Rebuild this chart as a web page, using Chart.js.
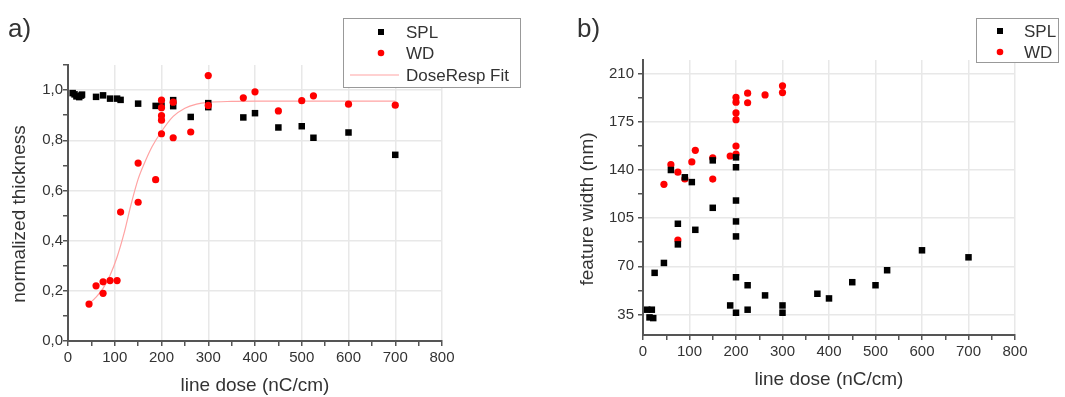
<!DOCTYPE html>
<html>
<head>
<meta charset="utf-8">
<script src="https://cdn.jsdelivr.net/npm/chart.js@4.4.0/dist/chart.umd.min.js"></script>
<style>
  html, body { margin: 0; padding: 0; background: #fff; }
  body { width: 1065px; height: 397px; position: relative; overflow: hidden; }
  .box { position: absolute; top: 0; height: 397px; }
  #boxA { left: 0; width: 540px; }
  #boxB { left: 540px; width: 525px; }
</style>
</head>
<body>
<div class="box" id="boxA"><canvas id="chartA" width="540" height="397"></canvas></div>
<div class="box" id="boxB"><canvas id="chartB" width="525" height="397"></canvas></div>
<script>
// ---- a) normalized thickness vs line dose ----
const splDoseA  = [10, 14, 18, 24, 28, 30, 60, 75, 90, 105, 112.5, 150, 187.5, 200, 225, 225, 262.5, 300, 300, 375, 400, 450, 500, 525, 600, 700];
const splThickA = [0.988, 0.983, 0.975, 0.972, 0.978, 0.982, 0.973, 0.979, 0.966, 0.966, 0.961, 0.946, 0.937, 0.938, 0.960, 0.936, 0.893, 0.948, 0.932, 0.891, 0.908, 0.851, 0.856, 0.810, 0.831, 0.742];

const wdDoseA  = [45, 60, 75, 75, 90, 105, 112.5, 150, 150, 187.5, 200, 200, 200, 200, 200, 225, 225, 262.5, 300, 300, 375, 400, 450, 500, 525, 600, 700];
const wdThickA = [0.147, 0.220, 0.236, 0.190, 0.241, 0.241, 0.514, 0.709, 0.553, 0.643, 0.960, 0.930, 0.898, 0.880, 0.826, 0.952, 0.810, 0.833, 1.058, 0.939, 0.969, 0.993, 0.917, 0.958, 0.977, 0.944, 0.940];

// DoseResp fit curve
const fitDoseA  = [45, 60, 75, 90, 105, 120, 135, 150, 165, 180, 200, 225, 250, 275, 300, 350, 400, 500, 600, 700];
const fitThickA = [0.148, 0.175, 0.21, 0.262, 0.335, 0.43, 0.545, 0.645, 0.715, 0.775, 0.835, 0.895, 0.928, 0.944, 0.951, 0.955, 0.956, 0.956, 0.956, 0.956];

// ---- b) feature width vs line dose ----
const splDoseB  = [9, 19, 14, 22, 25, 45, 60, 75, 75, 90, 105, 112.5, 150, 150, 187.5, 200, 200, 200, 200, 200, 200, 200, 225, 225, 262.5, 300, 300, 375, 400, 450, 500, 525, 600, 700];
const splWidthB = [38.4, 38.4, 32.8, 32.3, 65.2, 72.4, 140, 100.9, 85.9, 134.7, 131.2, 96.5, 147, 112.5, 41.5, 149.2, 142, 117.8, 102.6, 91.7, 62, 36.2, 56.2, 38.4, 48.8, 41.5, 36.2, 50, 46.6, 58.4, 56.2, 67.1, 81.6, 76.5];

const wdDoseB  = [45, 60, 75, 75, 90, 105, 112.5, 150, 150, 187.5, 200, 200, 200, 200, 200, 200, 225, 225, 262.5, 300, 300];
const wdWidthB = [129.6, 143.9, 138.4, 89.1, 133.5, 145.9, 154.3, 148.8, 133.4, 150.2, 157.4, 151.6, 176.6, 181.5, 189.3, 192.8, 188.9, 195.9, 194.6, 196.3, 201.2];

// ticks (major + minor)
const doseTicks  = [0, 50, 100, 150, 200, 250, 300, 350, 400, 450, 500, 550, 600, 650, 700, 750, 800];
const thickTicks = [0, 0.1, 0.2, 0.3, 0.4, 0.5, 0.6, 0.7, 0.8, 0.9, 1.0, 1.1];
const widthTicks = [35, 52.5, 70, 87.5, 105, 122.5, 140, 157.5, 175, 192.5, 210];

const FONT = "'Liberation Sans', Arial, sans-serif";
const TEXT = '#333';
const AXIS = '#555';
const GRID = '#e8e8e8';

const pts = (xs, ys) => xs.map((x, i) => ({ x: x, y: ys[i] }));

function axis(ticks, isMajor, fmt, min, max, pad, extra) {
  return Object.assign({
    type: 'linear',
    min: min,
    max: max,
    afterBuildTicks: s => { s.ticks = ticks.map(v => ({ value: v })); },
    ticks: {
      autoSkip: false, maxRotation: 0, padding: pad,
      color: TEXT, font: { family: FONT, size: 15 },
      callback: v => isMajor(v) ? fmt(v) : ''
    },
    grid: {
      color: c => (c.tick && isMajor(c.tick.value) && c.tick.value !== min) ? GRID : 'rgba(0,0,0,0)',
      lineWidth: 1.5,
      tickColor: AXIS,
      tickLength: 5
    },
    border: { display: true, color: AXIS, width: 2 }
  }, extra);
}

const doseMajor = v => v % 100 === 0;
const xTitle = (pb) => ({
  display: true, text: 'line dose (nC/cm)', color: TEXT,
  font: { family: FONT, size: 19 }, padding: { top: 0, bottom: pb }
});

// panel label, rotated y title and boxed legend
const decor = {
  id: 'decor',
  afterDraw(chart, args, o) {
    const ctx = chart.ctx;
    ctx.save();
    ctx.fillStyle = TEXT;
    ctx.font = '26px ' + FONT;
    ctx.textBaseline = 'alphabetic';
    ctx.fillText(o.panel, o.panelX, o.panelY);

    ctx.save();
    ctx.translate(o.yTitleX, o.yTitleY);
    ctx.rotate(-Math.PI / 2);
    ctx.textAlign = 'center';
    ctx.textBaseline = 'middle';
    ctx.font = '19px ' + FONT;
    ctx.fillText(o.yTitle, 0, 0);
    ctx.restore();

    const L = o.legend;
    ctx.fillStyle = '#fff';
    ctx.fillRect(L.x, L.y, L.w, L.h);
    ctx.strokeStyle = '#999';
    ctx.lineWidth = 1;
    ctx.strokeRect(L.x + 0.5, L.y + 0.5, L.w, L.h);
    ctx.font = '17px ' + FONT;
    ctx.textBaseline = 'middle';
    ctx.textAlign = 'left';
    chart.data.datasets.forEach((ds, i) => {
      const y = L.rowY[i];
      if (ds.showLine) {
        ctx.strokeStyle = ds.borderColor;
        ctx.lineWidth = ds.borderWidth;
        ctx.beginPath();
        ctx.moveTo(L.lineX0, y);
        ctx.lineTo(L.lineX1, y);
        ctx.stroke();
      } else {
        ctx.fillStyle = ds.pointBackgroundColor;
        ctx.beginPath();
        if (ds.pointStyle === 'rect') ctx.rect(L.markX - 3, y - 3, 6, 6);
        else ctx.arc(L.markX, y, 3.3, 0, Math.PI * 2);
        ctx.fill();
      }
      ctx.fillStyle = TEXT;
      ctx.fillText(ds.label, L.textX, y + 1);
    });
    ctx.restore();
  }
};

const splStyle = { pointStyle: 'rect', pointRadius: 4.6, pointBackgroundColor: '#000', pointBorderWidth: 0, borderColor: '#000', backgroundColor: '#000', showLine: false };
const wdStyle  = { pointStyle: 'circle', pointRadius: 3.6, pointBackgroundColor: '#ff0000', pointBorderWidth: 0, borderColor: '#ff0000', backgroundColor: '#ff0000', showLine: false };

const common = {
  responsive: false,
  animation: false,
  devicePixelRatio: 1,
  events: []
};

new Chart(document.getElementById('chartA'), {
  type: 'scatter',
  data: {
    datasets: [
      Object.assign({ label: 'SPL', data: pts(splDoseA, splThickA), order: 2 }, splStyle),
      Object.assign({ label: 'WD', data: pts(wdDoseA, wdThickA), order: 1 }, wdStyle),
      { label: 'DoseResp Fit', data: pts(fitDoseA, fitThickA), showLine: true, pointRadius: 0,
        borderColor: '#ffa3a3', borderWidth: 1.2, cubicInterpolationMode: 'monotone', order: 3 }
    ]
  },
  options: Object.assign({}, common, {
    layout: { padding: { left: 0, top: 65, right: 98, bottom: 0 } },
    scales: {
      x: axis(doseTicks, doseMajor, v => String(v), 0, 800, 3,
        { position: 'bottom', afterFit: s => { s.height = 56; }, title: xTitle(0) }),
      y: axis(thickTicks, v => Math.round(v * 10) % 2 === 0, v => v.toFixed(1).replace('.', ','), 0, 1.1, 0,
        { position: 'left', afterFit: s => { s.width = 68; } })
    },
    plugins: {
      legend: { display: false },
      tooltip: { enabled: false },
      decor: {
        panel: 'a)', panelX: 8, panelY: 37,
        yTitle: 'normalized thickness', yTitleX: 20, yTitleY: 214,
        legend: { x: 343, y: 18, w: 177, h: 69, rowY: [32, 53, 75], markX: 381, textX: 406, lineX0: 350, lineX1: 399 }
      }
    }
  }),
  plugins: [decor]
});

new Chart(document.getElementById('chartB'), {
  type: 'scatter',
  data: {
    datasets: [
      Object.assign({ label: 'SPL', data: pts(splDoseB, splWidthB), order: 1 }, splStyle),
      Object.assign({ label: 'WD', data: pts(wdDoseB, wdWidthB), order: 2 }, wdStyle)
    ]
  },
  options: Object.assign({}, common, {
    layout: { padding: { left: 0, top: 60, right: 50, bottom: 0 } },
    scales: {
      x: axis(doseTicks, doseMajor, v => String(v), 0, 800, 3,
        { position: 'bottom', afterFit: s => { s.height = 62; }, title: xTitle(6) }),
      y: axis(widthTicks, v => v % 35 === 0, v => String(v), 20, 220, 4,
        { position: 'left', afterFit: s => { s.width = 103; } })
    },
    plugins: {
      legend: { display: false },
      tooltip: { enabled: false },
      decor: {
        panel: 'b)', panelX: 37, panelY: 37,
        yTitle: 'feature width (nm)', yTitleX: 48, yTitleY: 209,
        legend: { x: 436, y: 18, w: 82, h: 44, rowY: [31, 52], markX: 460, textX: 484, lineX0: 0, lineX1: 0 }
      }
    }
  }),
  plugins: [decor]
});
</script>
</body>
</html>
